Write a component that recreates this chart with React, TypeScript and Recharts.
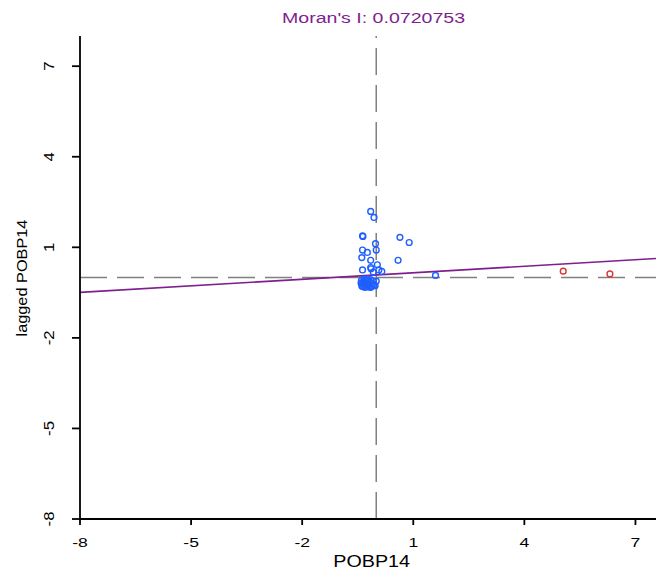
import React from "react";
import { ScatterChart, Scatter, XAxis, YAxis, ReferenceLine } from "recharts";

// Moran scatterplot of POBP14 against its spatial lag
const MORAN_I = 0.0720753;
const FIT_INTERCEPT = 0.085;

const X_TICKS = [-8, -5, -2, 1, 4, 7];
const Y_TICKS = [-8, -5, -2, 1, 4, 7];
const X_DOMAIN: [number, number] = [-8, 7.555];
const Y_DOMAIN: [number, number] = [-8, 8];

// standardized POBP14 values (x) and their spatial lag (y)
const blueX = [
  -0.15, -0.06, -0.36, -0.37, 0.64, 0.89, -0.02, -0.37, 0.0, -0.24, -0.39, 0.59, -0.15, 0.03,
  -0.15, 0.15, -0.37, -0.08, 1.6, -0.03, -0.14, 0.07,
  -0.4, -0.38, -0.36, -0.34, -0.31, -0.29, -0.27, -0.25, -0.22, -0.2, -0.18, -0.16, -0.14,
  -0.12, -0.1, -0.08, -0.39, -0.33, -0.23, -0.06, -0.3, -0.15, 0.0, -0.41,
];
const blueY = [
  2.19, 1.99, 1.36, 1.38, 1.33, 1.16, 1.12, 0.91, 0.91, 0.83, 0.66, 0.57, 0.57, 0.42,
  0.33, 0.2, 0.25, 0.18, 0.07, -0.27, 0.29, 0.25,
  -0.1, -0.22, -0.3, -0.15, -0.26, -0.09, -0.19, -0.3, -0.12, -0.24, -0.31, -0.16, -0.08,
  -0.27, -0.2, -0.11, -0.28, -0.05, -0.05, -0.24, -0.33, -0.33, -0.12, -0.18,
];
const redX = [5.05, 6.31];
const redY = [0.21, 0.12];

const bluePoints = blueX.map((x, i) => ({ x, y: blueY[i] }));
const redPoints = redX.map((x, i) => ({ x, y: redY[i] }));

const fitAt = (x: number) => FIT_INTERCEPT + MORAN_I * x;

const FONT = "'Liberation Sans', Arial, sans-serif";
const PURPLE = "#7e1f8e";
const BLUE = "#1f5fff";
const RED = "#dd3535";
const GRAY = "#808080";

const XTick = (p: any) => (
  <text
    transform={`translate(${p.x},${p.y + 20.3}) scale(1.35,1)`}
    textAnchor="middle"
    fontSize={13}
    fontFamily={FONT}
    fill="#000"
  >
    {p.payload.value}
  </text>
);

const YTick = (p: any) => (
  <text
    transform={`translate(${p.x - 16},${p.y}) rotate(-90) scale(1.16,1)`}
    textAnchor="middle"
    fontSize={14.5}
    fontFamily={FONT}
    fill="#000"
  >
    {p.payload.value}
  </text>
);

const ring = (color: string) => (p: any) => (
  <circle cx={p.cx} cy={p.cy} r={2.9} fill="none" stroke={color} strokeWidth={1.4} />
);

export default function App() {
  return (
    <div style={{ position: "absolute", left: 0, top: 0, width: 656, height: 572, background: "#fff" }}>
      <ScatterChart width={656} height={572} margin={{ top: 36, right: 0, bottom: 0, left: 0 }}>
        <XAxis
          type="number"
          dataKey="x"
          domain={X_DOMAIN}
          ticks={X_TICKS}
          allowDataOverflow
          height={53}
          tickSize={6}
          axisLine={{ stroke: "#000", strokeWidth: 1.8 }}
          tickLine={{ stroke: "#000", strokeWidth: 1.8 }}
          tick={<XTick />}
        />
        <YAxis
          type="number"
          dataKey="y"
          domain={Y_DOMAIN}
          ticks={Y_TICKS}
          allowDataOverflow
          width={80}
          tickSize={8}
          axisLine={{ stroke: "#000", strokeWidth: 1.8 }}
          tickLine={{ stroke: "#000", strokeWidth: 1.8 }}
          tick={<YTick />}
        />
        <ReferenceLine x={0} stroke={GRAY} strokeWidth={1.5} strokeDasharray="27 10" />
        <ReferenceLine y={0} stroke={GRAY} strokeWidth={1.5} strokeDasharray="27 10" />
        <ReferenceLine
          segment={[
            { x: X_DOMAIN[0], y: fitAt(X_DOMAIN[0]) },
            { x: X_DOMAIN[1], y: fitAt(X_DOMAIN[1]) },
          ]}
          stroke={PURPLE}
          strokeWidth={1.6}
        />
        <Scatter data={bluePoints} shape={ring(BLUE)} isAnimationActive={false} />
        <Scatter data={redPoints} shape={ring(RED)} isAnimationActive={false} />
        <text
          transform="translate(373.5,23.3) scale(1.27,1)"
          textAnchor="middle"
          fontSize={15.4}
          fontFamily={FONT}
          fill={PURPLE}
        >
          {`Moran's I: ${MORAN_I}`}
        </text>
        <text
          transform="translate(371.7,567.3) scale(1.21,1)"
          textAnchor="middle"
          fontSize={16.3}
          fontFamily={FONT}
          fill="#000"
        >
          POBP14
        </text>
        <text
          transform="translate(27,278) rotate(-90) scale(1.14,1)"
          textAnchor="middle"
          fontSize={14.3}
          fontFamily={FONT}
          fill="#000"
        >
          lagged POBP14
        </text>
      </ScatterChart>
    </div>
  );
}
